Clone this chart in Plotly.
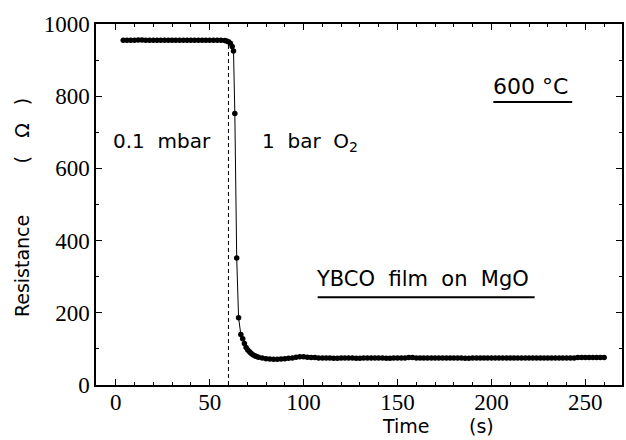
import plotly.graph_objects as go

# ---- data ----
time_s = [4, 6, 8, 10, 12, 14, 16, 18, 20, 22, 24, 26, 28, 30, 32, 34, 36, 38, 40,
          42, 44, 46, 48, 50, 52, 54, 56, 58, 59, 60, 61, 62, 62.7,
          63.4, 64.4, 65.4, 66.6,
          67.6, 68.5, 69.4, 70.3, 71.2, 72, 73, 74, 75, 76, 78, 80, 82, 84, 86, 88, 90,
          92, 94, 96, 98, 100, 102, 104, 106, 108, 110, 112, 114, 116, 118, 120,
          122, 124, 126, 128, 130, 132, 134, 136, 138, 140, 142, 144, 146, 148, 150,
          152, 154, 156, 158, 160, 162, 164, 166, 168, 170, 172, 174, 176, 178, 180,
          182, 184, 186, 188, 190, 192, 194, 196, 198, 200, 202, 204, 206, 208, 210,
          212, 214, 216, 218, 220, 222, 224, 226, 228, 230, 232, 234, 236, 238, 240,
          242, 244, 246, 248, 250, 252, 254, 256, 258, 260]
resistance_ohm = [955, 955, 955, 955, 956, 956, 955, 955, 955, 955, 955, 955, 955, 955, 955, 955, 955, 955, 955,
                  955, 955, 955, 955, 955, 955, 955, 955, 954, 953, 951, 947, 938, 925,
                  752, 352, 186, 140,
                  128, 115, 104, 97, 92, 88, 84, 81, 79, 77, 75, 73, 72, 71, 71, 72, 73,
                  74, 75, 77, 78, 78, 77, 76, 76, 75, 75, 75, 75, 74, 74, 75,
                  75, 75, 75, 74, 74, 75, 75, 75, 75, 75, 75, 74, 74, 75, 75,
                  75, 75, 76, 76, 75, 75, 75, 75, 75, 75, 75, 75, 75, 75, 75,
                  75, 75, 74, 74, 75, 75, 75, 75, 75, 75, 75, 75, 75, 75, 75,
                  75, 75, 75, 75, 75, 75, 75, 75, 75, 75, 75, 75, 75, 75, 75,
                  75, 75, 76, 76, 76, 76, 76, 76, 76, 76]

x_ticks = [0, 50, 100, 150, 200, 250]
y_ticks = [0, 200, 400, 600, 800, 1000]

switch_time = 60
switch_top = 950

SERIF = "Liberation Serif"
SANS = "DejaVu Sans"

fig = go.Figure()
fig.add_trace(go.Scatter(
    x=time_s, y=resistance_ohm, mode="lines+markers",
    line=dict(color="black", width=1),
    marker=dict(color="black", size=5.5),
    showlegend=False,
))

# dashed switching line
fig.add_shape(type="line", xref="x", yref="y",
              x0=switch_time, x1=switch_time, y0=0, y1=switch_top,
              line=dict(color="black", width=1, dash="4px,3px"))

# underlines
fig.add_shape(type="line", xref="x", yref="y", x0=201, x1=243, y0=784, y1=784,
              line=dict(color="black", width=2))
fig.add_shape(type="line", xref="x", yref="y", x0=107.5, x1=223, y0=243, y1=243,
              line=dict(color="black", width=2))

def ann(text, x, y, size, **kw):
    fig.add_annotation(x=x, y=y, text=text, showarrow=False,
                       font=dict(family=SANS, size=size, color="black"), **kw)

ann("600 \u00b0C", 221, 826, 22, xref="x", yref="y")
ann("YBCO\u00a0 film\u00a0 on\u00a0 MgO", 163.5, 295, 21, xref="x", yref="y")
ann("0.1\u00a0 mbar", 24.5, 675, 20, xref="x", yref="y")
ann("1\u00a0 bar\u00a0 O<sub>2</sub>", 77, 672, 20, xref="x", yref="y", xanchor="left")

# axis titles
ann("Time", 154.4, -0.1136, 19, xref="x", yref="paper", xanchor="center", yanchor="middle")
ann("(s)", 194.9, -0.1136, 19, xref="x", yref="paper", xanchor="center", yanchor="middle")
ann("Resistance", -0.1402, 330, 19, xref="paper", yref="y", textangle=-90,
    xanchor="center", yanchor="middle")
ann("(\u00a0\u00a0\u00a0\u03a9\u00a0\u00a0\u00a0)", -0.1402, 706, 19, xref="paper", yref="y",
    textangle=-90, xanchor="center", yanchor="middle")

axis_common = dict(
    showgrid=False, zeroline=False, showline=True, linecolor="black", linewidth=1.5,
    mirror="ticks", ticks="inside", tickcolor="black", tickwidth=1, ticklen=6,
    tickfont=dict(family=SERIF, size=23, color="black"),
)
fig.update_xaxes(range=[-10.5, 269.5], tickvals=x_ticks, ticktext=[str(v) for v in x_ticks],
                 minor=dict(dtick=10, tick0=0, ticks="inside", ticklen=3, tickcolor="black"),
                 ticklabelstandoff=-4, **axis_common)
fig.update_yaxes(range=[0, 1000], tickvals=y_ticks, ticktext=[str(v) for v in y_ticks],
                 minor=dict(dtick=100, tick0=0, ticks="inside", ticklen=3, tickcolor="black"),
                 **axis_common)

fig.update_layout(
    width=626, height=440,
    margin=dict(l=96, r=2, t=24, b=55),
    paper_bgcolor="white", plot_bgcolor="white",
)

fig.write_html("out.html", config={"displayModeBar": False},
               post_script="document.body.style.margin='0';document.body.style.overflow='hidden';")
